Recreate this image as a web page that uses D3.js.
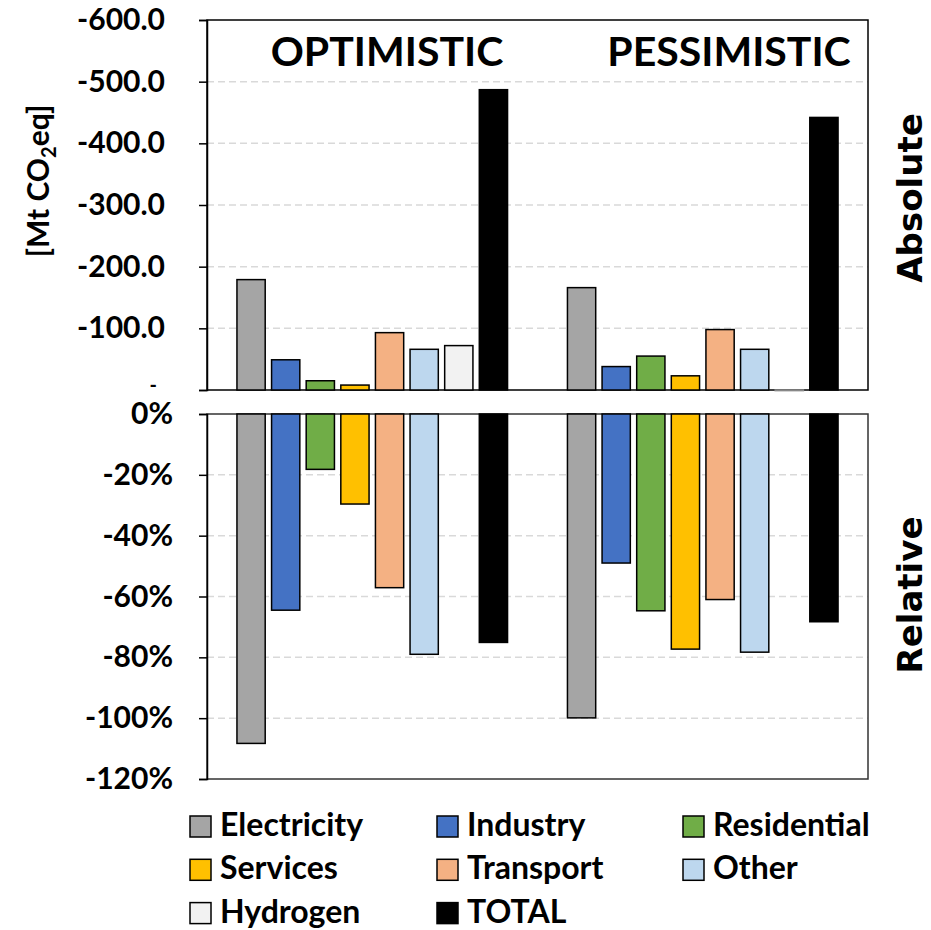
<!DOCTYPE html>
<html>
<head>
<meta charset="utf-8">
<script src="https://cdn.jsdelivr.net/npm/d3@7"></script>
<style>
  html, body { margin: 0; padding: 0; background: #ffffff; }
  svg { display: block; }
</style>
</head>
<body>
<svg id="chart" width="931" height="930"></svg>
<script>
// ---------- data ----------
const categories = ["Electricity", "Industry", "Residential", "Services", "Transport", "Other", "Hydrogen", "TOTAL"];
const scenarios = ["OPTIMISTIC", "PESSIMISTIC"];
// absolute change [Mt CO2eq]
const absOptimistic  = [-179, -49, -15, -8, -93, -66, -72, -487];
const absPessimistic = [-166, -38, -55, -23, -98, -66, 1, -442];
// relative change
const relOptimistic  = [-1.083, -0.645, -0.182, -0.296, -0.571, -0.790, null, -0.751];
const relPessimistic = [-0.999, -0.490, -0.647, -0.773, -0.610, -0.783, null, -0.683];
const colors = ["#a5a5a5", "#4472c4", "#70ad47", "#ffc000", "#f4b183", "#bdd7ee", "#f2f2f2", "#000000"];
const absTicks = [0, -100, -200, -300, -400, -500, -600];
const relTicks = [0, -0.2, -0.4, -0.6, -0.8, -1.0, -1.2];
const panelLabels = ["Absolute", "Relative"];

// ---------- layout ----------
const svg = d3.select("#chart");
const L = 207, R = 868;
const topY0 = 20, topY1 = 390;
const botY0 = 414, botY1 = 779;
const calib = "Lato, 'Open Sans', sans-serif";

const x0 = d3.scaleBand().domain(scenarios).range([L, R]).padding(0);
const x1 = d3.scaleBand().domain(categories).range([0, x0.bandwidth()])
  .paddingInner(0.184).paddingOuter(0.865);

const yAbs = d3.scaleLinear().domain([0, -600]).range([topY1, topY0]);
const yRel = d3.scaleLinear().domain([0, -1.2]).range([botY0, botY1]);

const absData = [absOptimistic, absPessimistic];
const relData = [relOptimistic, relPessimistic];

function flat(arrs) {
  const out = [];
  scenarios.forEach((s, si) => categories.forEach((c, ci) => {
    out.push({ s, c, ci, v: arrs[si][ci] });
  }));
  return out;
}

// ---------- gridlines ----------
svg.append("g").selectAll("line").data(absTicks.filter(d => d !== 0 && d !== -600)).join("line")
  .attr("x1", L).attr("x2", R).attr("y1", d => yAbs(d)).attr("y2", d => yAbs(d))
  .attr("stroke", "#d9d9d9").attr("stroke-width", 1.5).attr("stroke-dasharray", "7,4");
svg.append("g").selectAll("line").data(relTicks.filter(d => d !== 0 && d !== -1.2)).join("line")
  .attr("x1", L).attr("x2", R).attr("y1", d => yRel(d)).attr("y2", d => yRel(d))
  .attr("stroke", "#d9d9d9").attr("stroke-width", 1.5).attr("stroke-dasharray", "7,4");

// ---------- frames ----------
svg.append("rect").attr("x", L).attr("y", topY0).attr("width", R - L).attr("height", topY1 - topY0)
  .attr("fill", "none").attr("stroke", "#000").attr("stroke-width", 1.5);
svg.append("rect").attr("x", L).attr("y", botY0).attr("width", R - L).attr("height", botY1 - botY0)
  .attr("fill", "none").attr("stroke", "#333").attr("stroke-width", 1.5);

// ---------- bars ----------
svg.append("g").selectAll("rect").data(flat(absData).filter(d => d.v !== null)).join("rect")
  .attr("x", d => x0(d.s) + x1(d.c))
  .attr("width", x1.bandwidth())
  .attr("y", d => Math.min(yAbs(d.v), yAbs(0)))
  .attr("height", d => Math.abs(yAbs(d.v) - yAbs(0)))
  .attr("fill", d => colors[d.ci])
  .attr("stroke", d => d.v > 0 ? "#888" : "#000").attr("stroke-width", 1.5);

svg.append("g").selectAll("rect").data(flat(relData).filter(d => d.v !== null)).join("rect")
  .attr("x", d => x0(d.s) + x1(d.c))
  .attr("width", x1.bandwidth())
  .attr("y", yRel(0))
  .attr("height", d => yRel(d.v) - yRel(0))
  .attr("fill", d => colors[d.ci])
  .attr("stroke", "#000").attr("stroke-width", 1.5);

// ---------- axes ----------
const absFmt = d => d === 0 ? "-" : (d < 0 ? "-" : "") + Math.abs(d).toFixed(1);
const relFmt = d => (d < 0 ? "-" : "") + Math.round(Math.abs(d) * 100) + "%";

const gA = svg.append("g").attr("transform", `translate(${L},0)`)
  .call(d3.axisLeft(yAbs).tickValues(absTicks).tickSize(8).tickPadding(34).tickFormat(absFmt));
const gR = svg.append("g").attr("transform", `translate(${L},0)`)
  .call(d3.axisLeft(yRel).tickValues(relTicks).tickSize(8).tickPadding(26).tickFormat(relFmt));

[gA, gR].forEach(g => {
  g.select(".domain").attr("stroke", "#000").attr("stroke-width", 1.5);
  g.selectAll(".tick line").attr("stroke", "#000").attr("stroke-width", 1.5);
  g.selectAll(".tick text").attr("fill", "#000")
    .style("font-family", calib).style("font-weight", "bold").style("font-size", "30px");
});
// zero label "-" sits a little lower and to the left, drawn smaller
gA.selectAll(".tick text").filter(d => d === 0)
  .attr("dx", -8).attr("dy", "0.05em").style("font-size", "20px");

// ---------- scenario titles ----------
svg.append("g").selectAll("text").data(scenarios).join("text")
  .attr("x", (d, i) => [387, 729][i])
  .attr("y", 66)
  .attr("text-anchor", "middle")
  .style("font-family", calib).style("font-weight", "bold").style("font-size", "41px")
  .text(d => d);

// ---------- panel labels ----------
svg.append("g").selectAll("text").data(panelLabels).join("text")
  .attr("transform", (d, i) => `translate(${922},${[198, 595][i]}) rotate(-90)`)
  .attr("text-anchor", "middle")
  .style("font-family", "'DejaVu Sans', sans-serif").style("font-weight", "bold").style("font-size", "34px")
  .text(d => d);

// ---------- y title ----------
const yt = svg.append("text")
  .attr("transform", `translate(49,181) rotate(-90)`)
  .attr("text-anchor", "middle")
  .style("font-family", calib).style("font-weight", "bold").style("font-size", "30px");
yt.append("tspan").text("[Mt CO");
yt.append("tspan").attr("dy", 7).style("font-size", "20px").text("2");
yt.append("tspan").attr("dy", -7).text("eq]");

// ---------- legend ----------
const legX = [190, 437, 683], legY0 = 816, legDY = 43.3;
const leg = svg.append("g").selectAll("g").data(categories).join("g")
  .attr("transform", (d, i) => `translate(${legX[i % 3]},${legY0 + Math.floor(i / 3) * legDY})`);
leg.append("rect").attr("width", 21).attr("height", 21)
  .attr("fill", (d, i) => colors[i]).attr("stroke", "#000").attr("stroke-width", 1.5);
leg.append("text").attr("x", 30).attr("y", 20)
  .style("font-family", calib).style("font-weight", "bold").style("font-size", "32px")
  .text(d => d);
</script>
</body>
</html>
